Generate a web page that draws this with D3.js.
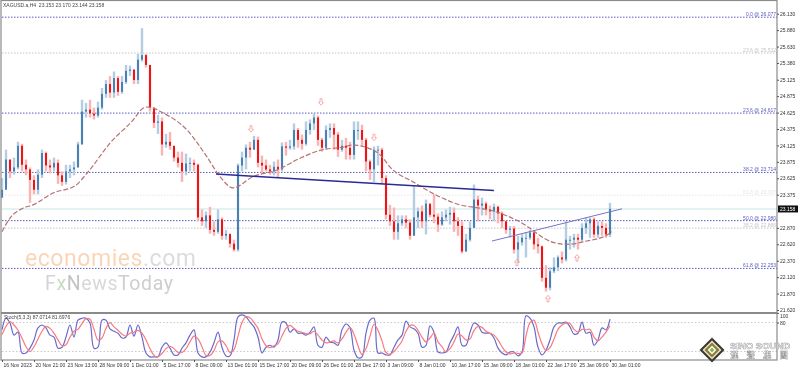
<!DOCTYPE html>
<html>
<head>
<meta charset="utf-8">
<script src="https://cdn.jsdelivr.net/npm/d3@7/dist/d3.min.js"></script>
<style>
  html, body { margin: 0; padding: 0; background: #fff; }
  svg { display: block; filter: blur(0.3px); }
  text { font-family: "Liberation Sans", sans-serif; }
</style>
</head>
<body>
<div id="chart-div"></div>
<script>
// XAGUSD H4, one entry per candle, oldest first
const closes = [
  23.45,23.91,23.73,23.79,24.12,23.83,23.76,23.60,23.45,23.68,
  24.01,23.82,23.79,23.86,23.67,23.57,23.73,23.76,23.79,24.14,
  24.64,24.67,24.61,24.58,24.70,24.91,25.06,24.93,25.15,24.94,
  25.09,25.26,25.28,25.12,25.43,25.50,25.35,24.70,24.47,24.49,
  24.14,24.18,24.12,23.94,23.86,23.73,23.85,23.86,23.83,23.03,
  22.97,23.06,22.84,22.81,23.00,22.75,22.78,22.63,22.54,23.82,
  23.94,24.09,24.06,24.21,23.86,23.82,23.76,23.73,23.80,23.76,
  24.11,24.09,24.11,24.36,24.21,24.15,24.36,24.46,24.55,24.21,
  24.09,24.36,24.39,24.29,24.06,24.12,24.09,23.98,24.36,24.36,
  24.21,23.88,23.76,24.06,24.06,23.63,23.07,22.97,22.81,22.94,
  23.00,22.95,22.75,23.03,23.12,22.97,23.24,23.07,23.04,22.92,
  23.03,23.07,23.10,22.97,22.90,22.51,22.69,22.87,23.30,23.21,
  23.24,23.15,23.12,23.19,23.09,22.97,22.84,22.86,22.54,22.65,
  22.72,22.72,22.80,22.62,22.59,22.11,21.96,22.21,22.27,22.42,
  22.39,22.69,22.69,22.72,22.69,22.87,22.94,23.00,22.77,22.90,
  22.87,22.77,23.16
];
const highs = [
  23.63,24.06,23.91,23.94,24.18,24.15,23.91,23.79,23.67,23.76,
  24.06,24.03,23.91,23.94,23.91,23.73,23.83,23.83,23.88,24.18,
  24.82,24.77,24.82,24.70,24.79,25.00,25.12,25.18,25.25,25.18,
  25.18,25.35,25.34,25.28,25.52,25.91,25.52,25.31,24.67,24.59,
  24.55,24.30,24.33,24.09,24.03,24.03,24.00,23.94,23.91,23.85,
  23.15,23.12,23.19,22.97,23.15,23.03,22.84,22.75,22.69,23.85,
  24.03,24.14,24.18,24.27,24.26,23.97,23.91,23.83,23.88,23.91,
  24.17,24.18,24.21,24.46,24.39,24.29,24.49,24.52,24.61,24.58,
  24.24,24.43,24.46,24.46,24.33,24.21,24.24,24.18,24.49,24.49,
  24.44,24.24,23.91,24.11,24.12,24.09,23.67,23.22,23.18,23.06,
  23.06,23.06,23.00,23.50,23.18,23.21,23.30,23.22,23.38,23.09,
  23.12,23.15,23.19,23.18,23.03,22.97,22.78,22.97,23.53,23.36,
  23.33,23.27,23.21,23.24,23.21,23.12,22.97,22.90,22.90,22.75,
  22.78,22.81,22.84,22.81,22.72,22.60,22.30,22.27,22.42,22.45,
  22.51,22.97,22.75,22.78,22.78,22.94,23.03,23.03,23.03,22.97,
  22.97,22.94,23.25
];
const lows = [
  23.33,23.53,23.63,23.68,23.76,23.73,23.67,23.25,23.38,23.38,
  23.63,23.73,23.70,23.73,23.54,23.51,23.53,23.63,23.67,23.79,
  24.14,24.55,24.55,24.52,24.55,24.67,24.85,24.85,24.85,24.88,
  24.91,25.06,25.18,25.06,25.06,25.40,25.31,24.64,24.39,24.30,
  23.97,24.09,24.06,23.88,23.79,23.57,23.67,23.73,23.73,22.97,
  22.90,22.87,22.78,22.75,22.78,22.69,22.69,22.57,22.51,22.51,
  23.73,23.76,23.94,24.06,23.79,23.70,23.73,23.68,23.67,23.63,
  23.73,23.97,24.06,24.06,24.09,24.06,24.12,24.29,24.36,24.12,
  24.03,24.06,24.24,24.06,23.95,24.03,23.91,23.91,23.91,24.21,
  24.12,23.73,23.60,23.57,23.82,23.54,23.00,22.90,22.69,22.69,
  22.90,22.87,22.69,22.75,22.87,22.87,22.77,23.03,22.94,22.81,
  22.90,22.97,22.92,22.81,22.75,22.48,22.51,22.66,22.87,22.97,
  23.06,23.06,23.00,22.97,22.94,22.87,22.78,22.72,22.48,22.34,
  22.60,22.42,22.69,22.54,22.48,22.05,21.90,21.92,22.18,22.21,
  22.33,22.36,22.54,22.57,22.54,22.66,22.78,22.72,22.72,22.72,
  22.75,22.72,22.73
];
const firstOpen = 23.33;

// Stochastic main and signal, same candle spacing
const stochMain = [
  65,89,79,54,60,17,17,27,44,69,75,69,54,50,27,29,50,75,50,85,
  89,89,79,27,29,85,85,67,62,58,48,50,75,52,75,50,17,9,9,9,
  29,38,27,13,13,27,38,54,65,17,9,9,19,38,60,29,11,11,44,92,
  96,92,81,71,50,17,29,33,29,44,81,79,60,67,58,58,54,60,71,33,
  29,50,40,38,33,65,77,69,23,7,9,58,85,89,17,17,13,13,29,44,
  54,83,71,67,58,29,33,73,60,19,17,19,38,54,71,33,33,60,79,75,
  60,58,58,48,27,17,13,19,19,11,19,94,89,71,29,13,23,44,71,79,
  79,81,71,56,58,81,58,60,33,44,69,65,87
];
const stochSignal = [
  55,72,82,75,64,48,30,20,30,46,62,72,68,58,44,32,34,50,62,66,
  78,88,87,66,44,48,68,80,71,64,56,52,58,60,64,58,44,26,12,9,
  16,26,31,26,18,18,26,40,52,46,30,12,12,22,40,42,32,18,24,52,
  80,92,90,80,68,46,32,28,32,36,52,68,74,68,62,60,57,57,62,54,
  44,38,40,42,38,46,60,70,56,32,14,26,52,76,64,42,18,14,20,30,
  42,62,74,74,64,50,40,48,58,40,30,19,26,40,56,52,44,46,64,72,
  70,62,58,54,44,30,19,15,17,16,17,52,80,85,60,36,22,28,46,66,
  75,79,78,66,60,66,65,66,50,42,50,60,74
];

// Moving average, read at these candle positions
const maBars = [0,2,5.25,7.75,12.75,18.25,21.5,27,32.75,35.25,36.5,40.25,46.25,51.25,54.5,57.75,62.75,68.75,74.5,79.5,85.25,87.75,93.75,97.75,102.75,109.5,114.5,119.5,123.75,129.5,137.75,141.25,146.25,151.25,152.5];
const maValues = [22.81,23.02,23.17,23.22,23.40,23.51,23.72,24.16,24.51,24.69,24.71,24.62,24.36,23.95,23.65,23.48,23.65,23.75,23.93,24.05,24.10,24.13,24.02,23.75,23.57,23.34,23.22,23.17,23.11,22.96,22.65,22.62,22.67,22.76,22.81];

const fibPrices = [26.077,25.532,24.617,23.714,23.367,22.980,22.866,22.253];
const fibNames = ['0.0','23.6','23.6','38.2','61.8','50.0','38.2','61.8'];
const fibKinds = ['blue','gray','blue','blue','pale','blue','gray','blue'];

const priceTicks = [26.13,25.88,25.63,25.38,25.125,24.875,24.625,24.375,24.125,23.875,23.625,23.375,22.87,22.62,22.37,22.12,21.87,21.62];
const timeLabels = ['16 Nov 2023','20 Nov 21:00','23 Nov 13:00','28 Nov 09:00','1 Dec 01:00','5 Dec 17:00','8 Dec 09:00','13 Dec 01:00','15 Dec 17:00','20 Dec 09:00','26 Dec 01:00','28 Dec 17:00','3 Jan 09:00','8 Jan 01:00','10 Jan 17:00','15 Jan 09:00','18 Jan 01:00','22 Jan 17:00','25 Jan 09:00','30 Jan 01:00'];
const stochTicks = [100,80];
const stochLevels = [80,20];

const trendBars = [[53.5,123],[122.5,155]];
const trendPrices = [[23.69,23.44],[22.67,23.16]];

const downArrowBars = [62.25,79.75,93];
const downArrowPrices = [24.38,24.79,24.25];
const upArrowBars = [128.75,143.75,136.5];
const upArrowPrices = [22.34,22.41,21.79];

const lastPrice = 23.158;
const header = 'XAGUSD.a,H4  23.153 23.170 23.144 23.158';
const stochHeader = 'Stoch(5,3,3) 87.0714 81.6976';

const WIDTH = 798;
const HEIGHT = 371;
const PLOT = { left: 2, right: 777, top: 1, mainBottom: 312, subTop: 314, bottom: 360 };
const BLUE = '#5a5ac2';
const FIB_COLORS = { blue: BLUE, gray: '#c4c4c4', pale: '#e6e6e6' };

const svg = d3.select('#chart-div').append('svg').attr('width', WIDTH).attr('height', HEIGHT);

const x = d3.scaleLinear().domain([0, 193.75]).range([PLOT.left, PLOT.right]);
const y = d3.scaleLinear().domain([26.13, 21.62]).range([13.7, 310]);
const yStoch = d3.scaleLinear().domain([0, 100]).range([361.2, 312.9]);

drawWatermarks();
drawLevels();
drawCandles();
drawOverlays();
drawStoch();
drawFrame();
drawAxes();
drawLogo();

function drawWatermarks(){
  const eco = svg.append('text').attr('x', 25).attr('y', 265.5)
    .attr('textLength', 171).attr('lengthAdjust', 'spacing')
    .style('font-family', 'Roboto, sans-serif').style('font-size', '23px');
  eco.append('tspan').attr('fill', '#fbd5b8').text('economies');
  eco.append('tspan').attr('fill', '#dcdcdc').text('.com');

  const fx = svg.append('text').attr('x', 45).attr('y', 289.5)
    .attr('textLength', 128).attr('lengthAdjust', 'spacing')
    .style('font-family', 'Roboto, sans-serif').style('font-size', '19.5px');
  fx.append('tspan').attr('fill', '#d4d4d4').text('F');
  fx.append('tspan').attr('fill', '#c5dcc0').text('x');
  fx.append('tspan').attr('fill', '#c4c4c4').text('N');
  fx.append('tspan').attr('fill', '#d8d8d8').text('ews');
  fx.append('tspan').attr('fill', '#cecece').text('Today');
}

function drawLevels(){
  // bid line sits behind everything
  svg.append('line')
    .attr('x1', PLOT.left).attr('x2', PLOT.right)
    .attr('y1', y(lastPrice)).attr('y2', y(lastPrice))
    .attr('stroke', '#e2f3f3').attr('stroke-width', 2);

  const fibs = d3.range(fibPrices.length);
  svg.append('g').selectAll('line').data(fibs).join('line')
    .attr('x1', PLOT.left).attr('x2', PLOT.right)
    .attr('y1', i => y(fibPrices[i])).attr('y2', i => y(fibPrices[i]))
    .attr('stroke', i => FIB_COLORS[fibKinds[i]])
    .attr('stroke-width', 1)
    .attr('stroke-dasharray', '1.5,1.5');

  svg.append('g').selectAll('text').data(fibs).join('text')
    .attr('x', PLOT.right - 1)
    .attr('y', i => y(fibPrices[i]) - 1)
    .attr('text-anchor', 'end')
    .attr('fill', i => FIB_COLORS[fibKinds[i]])
    .style('font-size', '5px')
    .text(i => `${fibNames[i]} @ ${fibPrices[i].toFixed(3)}`);
}

function drawCandles(){
  const candles = closes.map((c, i) => ({
    i, close: c, high: highs[i], low: lows[i],
    open: i === 0 ? firstOpen : closes[i - 1]
  }));

  const g = svg.append('g');
  g.selectAll('line').data(candles).join('line')
    .attr('x1', d => x(d.i)).attr('x2', d => x(d.i))
    .attr('y1', d => y(d.high)).attr('y2', d => y(d.low))
    .attr('stroke', d => d.close >= d.open ? '#b4cde2' : '#fab4b4')
    .attr('stroke-width', 2.4);

  g.selectAll('rect').data(candles).join('rect')
    .attr('x', d => x(d.i) - 1)
    .attr('width', 2)
    .attr('y', d => y(Math.max(d.open, d.close)))
    .attr('height', d => Math.max(1, Math.abs(y(d.open) - y(d.close))))
    .attr('fill', d => d.close >= d.open ? '#4a80b2' : '#ee1414');
}

function drawOverlays(){
  const maLine = d3.line().x(d => x(d[0])).y(d => y(d[1])).curve(d3.curveMonotoneX);
  svg.append('path')
    .datum(maBars.map((b, i) => [b, maValues[i]]))
    .attr('d', maLine)
    .attr('fill', 'none')
    .attr('stroke', '#b87272')
    .attr('stroke-width', 1.2)
    .attr('stroke-dasharray', '5,2');

  svg.append('line')
    .attr('x1', x(trendBars[0][0])).attr('x2', x(trendBars[0][1]))
    .attr('y1', y(trendPrices[0][0])).attr('y2', y(trendPrices[0][1]))
    .attr('stroke', '#2a2a96').attr('stroke-width', 1.5);
  svg.append('line')
    .attr('x1', x(trendBars[1][0])).attr('x2', x(trendBars[1][1]))
    .attr('y1', y(trendPrices[1][0])).attr('y2', y(trendPrices[1][1]))
    .attr('stroke', '#7a72c8').attr('stroke-width', 1);

  const upPath = 'M0,-3.5L2.5,-0.5L1,-0.5L1,3L-1,3L-1,-0.5L-2.5,-0.5Z';
  const arrow = (bars, prices, rot) => svg.append('g').selectAll('path').data(bars).join('path')
    .attr('d', upPath)
    .attr('transform', (b, i) => `translate(${x(b)},${y(prices[i])}) rotate(${rot})`)
    .attr('fill', 'none')
    .attr('stroke', '#f79a9a')
    .attr('stroke-width', 0.8);
  arrow(downArrowBars, downArrowPrices, 180);
  arrow(upArrowBars, upArrowPrices, 0);
}

function drawStoch(){
  svg.append('g').selectAll('line').data(stochLevels).join('line')
    .attr('x1', PLOT.left).attr('x2', PLOT.right)
    .attr('y1', d => yStoch(d)).attr('y2', d => yStoch(d))
    .attr('stroke', '#c8c8c8')
    .attr('stroke-dasharray', '1.5,2');

  const line = d3.line().x((d, i) => x(i)).y(d => yStoch(d)).curve(d3.curveCatmullRom);
  svg.append('path').datum(stochMain).attr('d', line)
    .attr('fill', 'none').attr('stroke', '#6a6acb').attr('stroke-width', 1.2);
  svg.append('path').datum(stochSignal).attr('d', line)
    .attr('fill', 'none').attr('stroke', '#f97a80').attr('stroke-width', 1.2);

  svg.append('text').attr('x', 4).attr('y', 319)
    .attr('fill', '#444').style('font-size', '5px').text(stochHeader);
}

function drawFrame(){
  svg.append('rect')
    .attr('x', 1).attr('y', 0.5)
    .attr('width', PLOT.right - 1).attr('height', PLOT.bottom - 0.5)
    .attr('fill', 'none').attr('stroke', '#8a8a8a').attr('stroke-width', 1.2);
  svg.append('rect')
    .attr('x', 1).attr('y', PLOT.mainBottom)
    .attr('width', PLOT.right - 1).attr('height', PLOT.subTop - PLOT.mainBottom)
    .attr('fill', '#8a8a8a');
}

function drawAxes(){
  const priceAxis = svg.append('g')
    .attr('transform', `translate(${PLOT.right},0)`)
    .call(d3.axisRight(y).tickValues(priceTicks).tickFormat(d3.format('.3f')).tickSize(2).tickPadding(1));
  styleAxis(priceAxis);

  const stochAxis = svg.append('g')
    .attr('transform', `translate(${PLOT.right},0)`)
    .call(d3.axisRight(yStoch).tickValues(stochTicks).tickSize(2).tickPadding(1));
  styleAxis(stochAxis);
  stochAxis.selectAll('text').attr('dy', (d, i) => i === 0 ? '0.9em' : '0.32em');

  // bars run on a fixed step, one label every 8
  const timeAxis = svg.append('g')
    .attr('transform', `translate(0,${PLOT.bottom})`)
    .call(d3.axisBottom(x)
      .tickValues(timeLabels.map((l, i) => i * 8))
      .tickFormat((d, i) => timeLabels[i])
      .tickSize(2).tickPadding(1));
  styleAxis(timeAxis);
  timeAxis.selectAll('text').attr('text-anchor', 'start').attr('dx', 1);

  svg.append('rect')
    .attr('x', PLOT.right + 1).attr('y', y(lastPrice) - 3.5)
    .attr('width', 20).attr('height', 7)
    .attr('fill', '#111');
  svg.append('text')
    .attr('x', PLOT.right + 3).attr('y', y(lastPrice) + 1.8)
    .attr('fill', '#fff').style('font-size', '5px')
    .text(lastPrice.toFixed(3));

  svg.append('text').attr('x', 3).attr('y', 7)
    .attr('fill', '#444').style('white-space', 'pre').style('font-size', '5px')
    .text(header);
}

function styleAxis(axis){
  axis.select('.domain').remove();
  axis.selectAll('line').attr('stroke', '#555');
  axis.selectAll('text').attr('fill', '#333').style('font-size', '5px').style('font-family', '"Liberation Sans", sans-serif');
}

function drawLogo(){
  const logo = svg.append('g').attr('transform', 'translate(712,350)');
  const diamond = r => `M0,${-r}L${r},0L0,${r}L${-r},0Z`;
  logo.append('path').attr('d', diamond(12.5)).attr('fill', '#3a3a32');
  logo.append('path').attr('d', diamond(9.5)).attr('fill', '#e9e4d2');
  logo.append('path').attr('d', diamond(7.5)).attr('fill', '#8d7a2c');
  logo.append('path').attr('d', diamond(4.5)).attr('fill', '#f2f2ea');
  logo.append('path').attr('d', diamond(2.2)).attr('fill', '#7fae4c');

  svg.append('text').attr('x', 730).attr('y', 348.5)
    .attr('fill', '#fff').attr('stroke', '#9a9a9a').attr('stroke-width', 0.5)
    .style('font-size', '9.5px').style('font-weight', 'bold')
    .text('SINO SOUND');
  svg.append('text').attr('x', 730).attr('y', 358)
    .attr('fill', '#fff').attr('stroke', '#9a9a9a').attr('stroke-width', 0.4)
    .style('font-family', '"Noto Sans CJK TC", sans-serif')
    .style('font-size', '8.5px').style('font-weight', 'bold')
    .style('letter-spacing', '8px')
    .text('漢聲集團');
}
</script>
</body>
</html>
